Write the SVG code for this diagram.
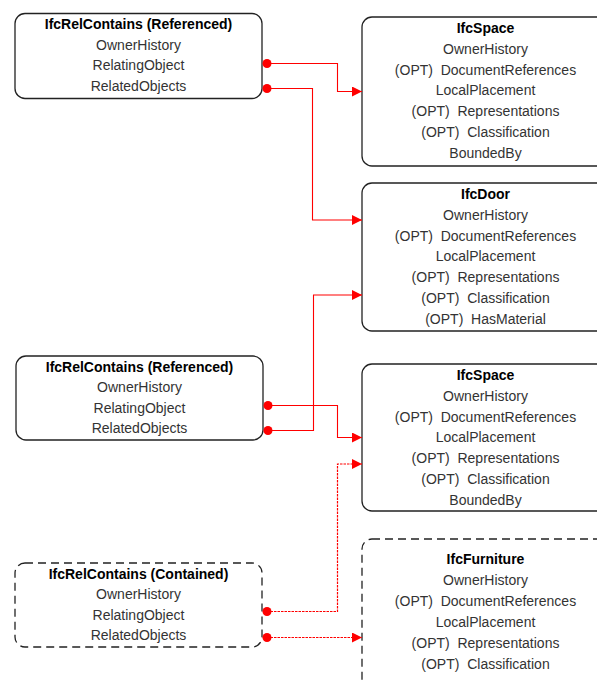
<svg xmlns="http://www.w3.org/2000/svg" width="597" height="680" viewBox="0 0 597 680">
<defs>
<style>
.box{fill:#fff;stroke:#222;stroke-width:1.3}
.dash{stroke-dasharray:8,5}
text{font-family:"Liberation Sans",Arial,sans-serif;font-size:14px;text-anchor:middle;fill:#333;white-space:pre}
.t{font-weight:bold;fill:#000}
.c{fill:none;stroke:#f00;stroke-width:1.1}
.dot{stroke-dasharray:2.5,1;stroke-width:1.2}
.pt{fill:#f00}
</style>
<marker id="arr" markerUnits="userSpaceOnUse" markerWidth="12" markerHeight="12" refX="10" refY="5" orient="auto"><path d="M0,0 L10,5 L0,10 Z" fill="#f00"/></marker>
</defs>
<rect width="597" height="680" fill="#fff"/>
<g id="rel1">
<rect class="box" x="15" y="13.5" width="247" height="85" rx="10"/>
<text class="t" x="138.5" y="29.3">IfcRelContains (Referenced)</text>
<text x="138.5" y="49.8">OwnerHistory</text>
<text x="138.5" y="70.3">RelatingObject</text>
<text x="138.5" y="90.8">RelatedObjects</text>
</g>
<g id="rel2">
<rect class="box" x="16" y="356" width="247" height="84" rx="10"/>
<text class="t" x="139.5" y="371.6">IfcRelContains (Referenced)</text>
<text x="139.5" y="392.1">OwnerHistory</text>
<text x="139.5" y="412.6">RelatingObject</text>
<text x="139.5" y="433.1">RelatedObjects</text>
</g>
<g id="rel3">
<rect class="box dash" x="15" y="563" width="247" height="84" rx="10"/>
<text class="t" x="138.5" y="578.5">IfcRelContains (Contained)</text>
<text x="138.5" y="599">OwnerHistory</text>
<text x="138.5" y="619.5">RelatingObject</text>
<text x="138.5" y="640">RelatedObjects</text>
</g>
<g id="space1">
<rect class="box" x="362" y="17" width="250" height="149" rx="10"/>
<text class="t" x="485.5" y="33">IfcSpace</text>
<text x="485.5" y="53.8">OwnerHistory</text>
<text x="485.5" y="74.6">(OPT)  DocumentReferences</text>
<text x="485.5" y="95.4">LocalPlacement</text>
<text x="485.5" y="116.2">(OPT)  Representations</text>
<text x="485.5" y="137">(OPT)  Classification</text>
<text x="485.5" y="157.8">BoundedBy</text>
</g>
<g id="door">
<rect class="box" x="362" y="183" width="250" height="148" rx="10"/>
<text class="t" x="485.5" y="199">IfcDoor</text>
<text x="485.5" y="219.8">OwnerHistory</text>
<text x="485.5" y="240.6">(OPT)  DocumentReferences</text>
<text x="485.5" y="261.4">LocalPlacement</text>
<text x="485.5" y="282.2">(OPT)  Representations</text>
<text x="485.5" y="303">(OPT)  Classification</text>
<text x="485.5" y="323.8">(OPT)  HasMaterial</text>
</g>
<g id="space2">
<rect class="box" x="362" y="364" width="250" height="147" rx="10"/>
<text class="t" x="485.5" y="380">IfcSpace</text>
<text x="485.5" y="400.8">OwnerHistory</text>
<text x="485.5" y="421.6">(OPT)  DocumentReferences</text>
<text x="485.5" y="442.4">LocalPlacement</text>
<text x="485.5" y="463.2">(OPT)  Representations</text>
<text x="485.5" y="484">(OPT)  Classification</text>
<text x="485.5" y="504.8">BoundedBy</text>
</g>
<g id="furniture">
<rect class="box dash" x="362" y="539" width="250" height="170" rx="10"/>
<text class="t" x="485.5" y="563.5">IfcFurniture</text>
<text x="485.5" y="584.5">OwnerHistory</text>
<text x="485.5" y="605.5">(OPT)  DocumentReferences</text>
<text x="485.5" y="626.5">LocalPlacement</text>
<text x="485.5" y="647.5">(OPT)  Representations</text>
<text x="485.5" y="668.5">(OPT)  Classification</text>
</g>
<g id="connectors">
<path class="c" d="M267,63.5 H337.5 V91.5 H362" marker-end="url(#arr)"/>
<path class="c" d="M267,88.5 H312.5 V220 H362" marker-end="url(#arr)"/>
<path class="c" d="M268,405.5 H337.5 V437.5 H362" marker-end="url(#arr)"/>
<path class="c" d="M268,430.5 H313.5 V295 H362" marker-end="url(#arr)"/>
<path class="c dot" d="M267,611.5 H337.5 V464 H362" marker-end="url(#arr)"/>
<path class="c dot" d="M267,637.5 H362" marker-end="url(#arr)"/>
<circle class="pt" cx="267" cy="63.5" r="4.5"/>
<circle class="pt" cx="267" cy="88.5" r="4.5"/>
<circle class="pt" cx="268" cy="405.5" r="4.5"/>
<circle class="pt" cx="268" cy="430.5" r="4.5"/>
<circle class="pt" cx="267" cy="611.5" r="4.5"/>
<circle class="pt" cx="267" cy="637.5" r="4.5"/>
</g>
</svg>
